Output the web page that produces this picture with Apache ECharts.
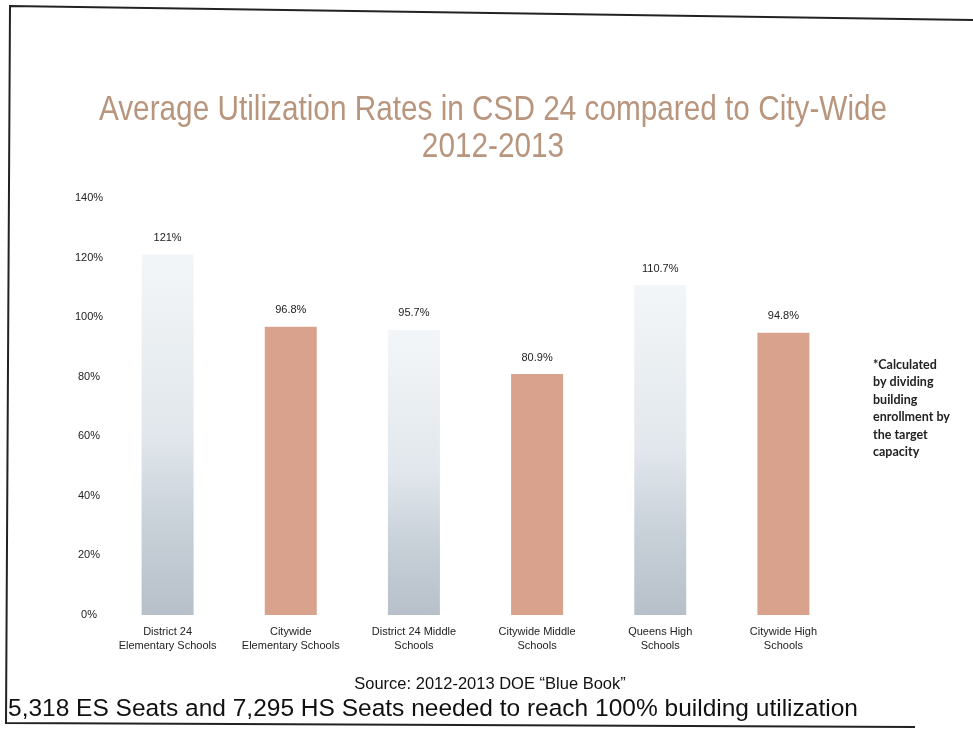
<!DOCTYPE html>
<html>
<head>
<meta charset="utf-8">
<script src="https://cdn.jsdelivr.net/npm/echarts@6/dist/echarts.min.js"></script>
<style>
  html, body { margin: 0; padding: 0; background: #fff; }
  #myChart { width: 973px; height: 738px; }
</style>
</head>
<body>
<div id="myChart"></div>
<script>
// data
const categories = [
  'District 24\nElementary Schools',
  'Citywide\nElementary Schools',
  'District 24 Middle\nSchools',
  'Citywide Middle\nSchools',
  'Queens High\nSchools',
  'Citywide High\nSchools'
]
const utilization = [121, 96.8, 95.7, 80.9, 110.7, 94.8]
const yTicks = [0, 20, 40, 60, 80, 100, 120, 140]

const myChart = echarts.init(document.getElementById('myChart'))

const blueBar = new echarts.graphic.LinearGradient(0, 0, 0, 1, [
  { offset: 0, color: '#f3f6f8' },
  { offset: 0.5, color: '#e1e7ec' },
  { offset: 0.75, color: '#c8d0d8' },
  { offset: 1, color: '#b7c0c9' }
])
const salmonBar = '#d9a28d'

myChart.setOption({
  animation: false,
  grid: { left: 106, top: 198, width: 739, height: 417 },
  xAxis: {
    type: 'category',
    data: categories,
    axisLine: { show: false },
    axisTick: { show: false },
    axisLabel: {
      interval: 0,
      margin: 10,
      fontFamily: 'Liberation Sans',
      fontSize: 11,
      lineHeight: 14,
      color: '#222'
    }
  },
  yAxis: {
    type: 'value',
    min: yTicks[0],
    max: yTicks[yTicks.length - 1],
    interval: 20,
    axisLine: { show: false },
    axisTick: { show: false },
    splitLine: { show: false },
    axisLabel: {
      margin: 17,
      align: 'center',
      fontFamily: 'Liberation Sans',
      fontSize: 11,
      color: '#222',
      formatter: v => v + '%'
    }
  },
  series: [{
    type: 'bar',
    data: utilization,
    barWidth: 52,
    itemStyle: {
      color: p => (p.dataIndex % 2 === 0 ? blueBar : salmonBar)
    },
    label: {
      show: true,
      position: 'top',
      distance: 11,
      fontFamily: 'Liberation Sans',
      fontSize: 11,
      color: '#222',
      formatter: p => p.value + '%'
    }
  }],
  graphic: [
    // slide title, squeezed horizontally like the narrow font in the scan
    {
      type: 'text',
      x: 493,
      y: 129,
      scaleX: 0.85,
      style: {
        text: 'Average Utilization Rates in CSD 24 compared to City-Wide\n2012-2013',
        fontFamily: 'Liberation Sans',
        fontSize: 35,
        lineHeight: 37,
        fill: '#b8957d',
        align: 'center',
        verticalAlign: 'middle'
      }
    },
    {
      type: 'polyline',
      shape: { points: [[973, 20], [10, 6], [6, 723], [915, 727]] },
      style: { stroke: '#222', lineWidth: 2, fill: null }
    },
    {
      type: 'text',
      left: 873,
      top: 356,
      style: {
        text: '*Calculated\nby dividing\nbuilding\nenrollment by\nthe target\ncapacity',
        fontFamily: 'Lato',
        fontWeight: 'bold',
        fontSize: 12.5,
        lineHeight: 17.5,
        fill: '#222'
      }
    },
    {
      type: 'text',
      x: 490,
      y: 684,
      style: {
        text: 'Source: 2012-2013 DOE \u201cBlue Book\u201d',
        fontFamily: 'Liberation Sans',
        fontSize: 16.5,
        fill: '#111',
        align: 'center',
        verticalAlign: 'middle'
      }
    },
    {
      type: 'text',
      x: 8,
      y: 709,
      style: {
        text: '5,318 ES Seats and 7,295 HS Seats needed to reach 100% building utilization',
        fontFamily: 'Liberation Sans',
        fontSize: 24.5,
        fill: '#111',
        verticalAlign: 'middle'
      }
    }
  ]
})
</script>
</body>
</html>
